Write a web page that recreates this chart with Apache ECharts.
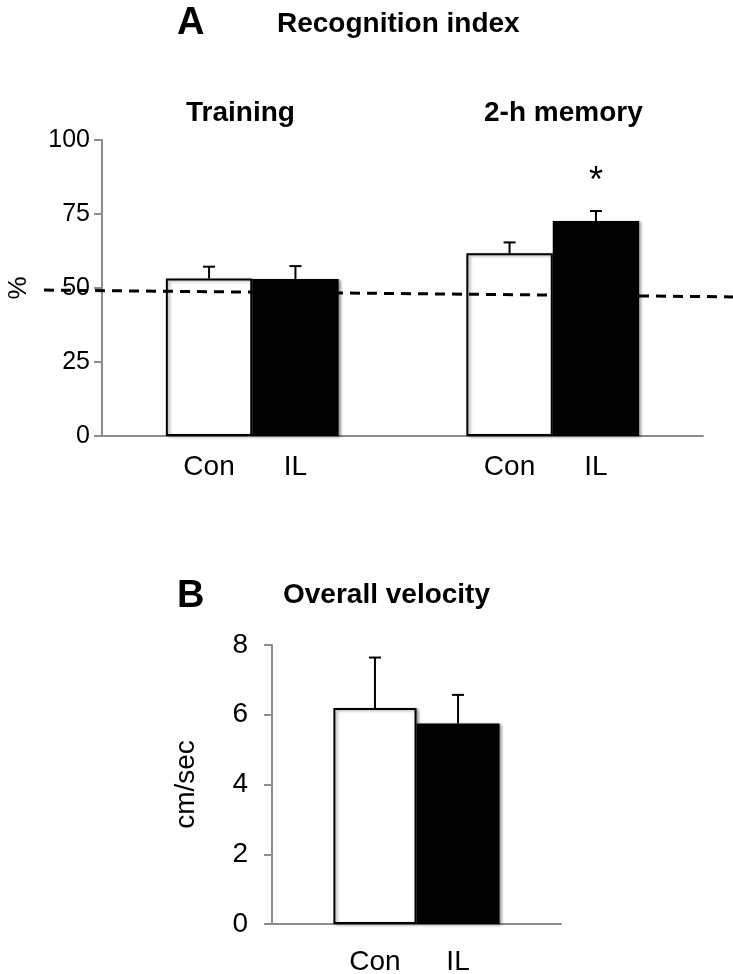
<!DOCTYPE html>
<html>
<head>
<meta charset="utf-8">
<script src="https://cdn.jsdelivr.net/npm/echarts@6/dist/echarts.min.js"></script>
<style>
  html, body { margin: 0; padding: 0; background: #fff; }
  #chart { width: 733px; height: 974px; }
</style>
</head>
<body>
<div id="chart"></div>
<script>
// panel A - recognition index (%)
var groupsA = ['Training', '2-h memory'];
var conA = [53.2, 61.7];
var conErrA = [57.2, 65.4];
var ilA = [53.0, 72.6];
var ilErrA = [57.4, 76.0];
var sigA = ['', '*'];
// chance level dashed line (start, end)
var chanceA = [49.3, 47.0];

// panel B - overall velocity (cm/sec)
var groupsB = ['velocity'];
var conB = [6.19];
var conErrB = [7.64];
var ilB = [5.75];
var ilErrB = [6.57];

var barLabels = ['Con', 'IL'];
var FONT = 'Liberation Sans, Arial, sans-serif';
var GAP = 0.425;

var chart = echarts.init(document.getElementById('chart'));

function errData(vals, errs) {
    var d = [];
    for (var i = 0; i < vals.length; i++) d.push([i, vals[i], errs[i]]);
    return d;
}

//误差线 (off: -1 for Con, +1 for IL)
function errBar(off, sigs) {
    return function (params, api) {
        var c = api.value(0);
        var top = api.coord([c, api.value(2)]);
        var base = api.coord([c, api.value(1)]);
        var band = api.size([1, 0])[0];
        var bw = band * (1 - GAP) / 2;
        var x = top[0] + off * bw / 2;
        var cap = 6;
        var style = {stroke: '#000', lineWidth: 2};
        var kids = [
            {type: 'line', shape: {x1: x, y1: base[1], x2: x, y2: top[1]}, style: style},
            {type: 'line', shape: {x1: x - cap, y1: top[1], x2: x + cap, y2: top[1]}, style: style}
        ];
        if (sigs && sigs[params.dataIndex]) {
            kids.push({
                type: 'text',
                style: {
                    text: sigs[params.dataIndex], x: x, y: top[1] - 47,
                    align: 'center', verticalAlign: 'top',
                    font: '36px ' + FONT, fill: '#000'
                }
            });
        }
        return {type: 'group', children: kids};
    };
}

var barStyleCon = {color: '#fff', borderColor: '#000', borderWidth: 2,
    shadowBlur: 3, shadowOffsetX: 2, shadowOffsetY: 1, shadowColor: 'rgba(0,0,0,0.35)'};
var barStyleIL = {color: '#000', borderColor: '#000', borderWidth: 2,
    shadowBlur: 3, shadowOffsetX: 2, shadowOffsetY: 1, shadowColor: 'rgba(0,0,0,0.35)'};

function barLabel(name, dist) {
    return {show: true, position: 'bottom', distance: dist, formatter: name,
        color: '#000', fontFamily: FONT, fontSize: 28};
}

var axisGray = {lineStyle: {color: '#8c8c8c', width: 2}};
var bold = function (s) {
    return {fontFamily: FONT, fontSize: s, fontWeight: 'bold', color: '#000'};
};

var option = {
    animation: false,
    backgroundColor: '#fff',
    title: [
        {text: 'A', left: 177, top: 5, padding: 0, textStyle: bold(38)},
        {text: 'Recognition index', left: 277, top: 10, padding: 0, textStyle: bold(28)},
        {text: groupsA[0], left: 186, top: 99, padding: 0, textStyle: bold(28)},
        {text: groupsA[1], left: 484, top: 99, padding: 0, textStyle: bold(28)},
        {text: 'B', left: 177, top: 578, padding: 0, textStyle: bold(38)},
        {text: 'Overall velocity', left: 283, top: 581, padding: 0, textStyle: bold(28)}
    ],
    grid: [
        {left: 102, right: 30, top: 140, bottom: 538, outerBoundsMode: 'none'},
        {left: 272, right: 172, top: 645, bottom: 50, outerBoundsMode: 'none'},
        {left: 44, right: 0, top: 140, bottom: 538, outerBoundsMode: 'none'}
    ],
    xAxis: [
        {type: 'category', gridIndex: 0, data: groupsA, axisLine: axisGray,
            axisTick: {show: false}, axisLabel: {show: false}},
        {type: 'category', gridIndex: 1, data: groupsB, axisLine: axisGray,
            axisTick: {show: false}, axisLabel: {show: false}},
        {type: 'value', gridIndex: 2, min: 0, max: 1, show: false}
    ],
    yAxis: [
        {type: 'value', gridIndex: 0, min: 0, max: 100, interval: 25,
            name: '%', nameLocation: 'middle', nameGap: 70, nameRotate: 90,
            nameTextStyle: {color: '#000', fontFamily: FONT, fontSize: 26},
            axisLine: {show: true, lineStyle: {color: '#8c8c8c', width: 2}},
            axisTick: {show: true, length: 8, lineStyle: {color: '#8c8c8c', width: 2}},
            axisLabel: {color: '#000', fontFamily: FONT, fontSize: 25, margin: 12},
            splitLine: {show: false}},
        {type: 'value', gridIndex: 1, min: 0, max: 8, interval: 2,
            name: 'cm/sec', nameLocation: 'middle', nameGap: 72, nameRotate: 90,
            nameTextStyle: {color: '#000', fontFamily: FONT, fontSize: 28},
            axisLine: {show: true, lineStyle: {color: '#8c8c8c', width: 2}},
            axisTick: {show: true, length: 8, lineStyle: {color: '#8c8c8c', width: 2}},
            axisLabel: {color: '#000', fontFamily: FONT, fontSize: 28, margin: 24},
            splitLine: {show: false}},
        {type: 'value', gridIndex: 2, min: 0, max: 100, show: false}
    ],
    series: [
        {type: 'bar', name: 'Con', xAxisIndex: 0, yAxisIndex: 0, data: conA,
            barGap: 0, barCategoryGap: (GAP * 100) + '%', itemStyle: barStyleCon, label: barLabel(barLabels[0], 17)},
        {type: 'bar', name: 'IL', xAxisIndex: 0, yAxisIndex: 0, data: ilA,
            barGap: 0, barCategoryGap: (GAP * 100) + '%', itemStyle: barStyleIL, label: barLabel(barLabels[1], 17)},
        {type: 'custom', xAxisIndex: 0, yAxisIndex: 0, data: errData(conA, conErrA), renderItem: errBar(-1), z: 5},
        {type: 'custom', xAxisIndex: 0, yAxisIndex: 0, data: errData(ilA, ilErrA), renderItem: errBar(1, sigA), z: 5},

        {type: 'bar', name: 'Con', xAxisIndex: 1, yAxisIndex: 1, data: conB,
            barGap: 0, barCategoryGap: (GAP * 100) + '%', itemStyle: barStyleCon, label: barLabel(barLabels[0], 24)},
        {type: 'bar', name: 'IL', xAxisIndex: 1, yAxisIndex: 1, data: ilB,
            barGap: 0, barCategoryGap: (GAP * 100) + '%', itemStyle: barStyleIL, label: barLabel(barLabels[1], 24)},
        {type: 'custom', xAxisIndex: 1, yAxisIndex: 1, data: errData(conB, conErrB), renderItem: errBar(-1), z: 5},
        {type: 'custom', xAxisIndex: 1, yAxisIndex: 1, data: errData(ilB, ilErrB), renderItem: errBar(1), z: 5},

        //虚线 50% chance
        {type: 'line', xAxisIndex: 2, yAxisIndex: 2, data: [[0, chanceA[0]], [1, chanceA[1]]],
            symbol: 'none', z: 10, silent: true,
            lineStyle: {color: '#000', width: 3, type: [10, 7]}}
    ]
};

chart.setOption(option);
</script>
</body>
</html>
